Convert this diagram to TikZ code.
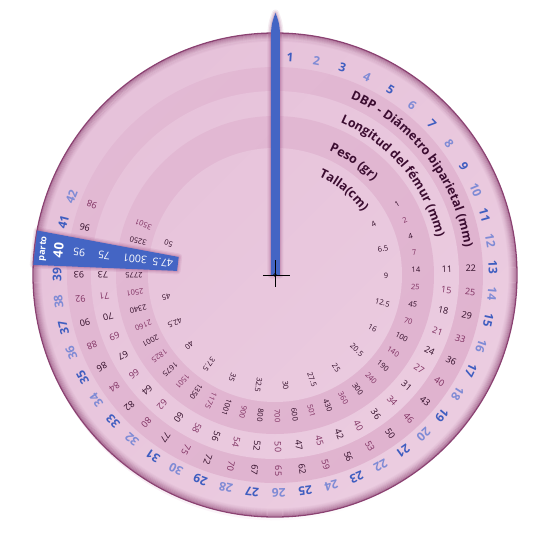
\documentclass[tikz,border=0pt]{standalone}
\usepackage{fontspec}
\setmainfont{Open Sans}
\usepackage{xcolor}
\usetikzlibrary{decorations.text,fadings}
\definecolor{ringlight}{HTML}{ECCDE1}
\definecolor{ringdark}{HTML}{E0B3CF}
\definecolor{ringmid}{HTML}{E4BDD7}
\definecolor{rim}{HTML}{8B4272}
\definecolor{shadowpink}{HTML}{9A4A7E}
\definecolor{weekdark}{HTML}{3E5DC0}
\definecolor{weeklight}{HTML}{7F8BD5}
\definecolor{numdark}{HTML}{2E0A25}
\definecolor{numplum}{HTML}{7E2F60}
\definecolor{title}{HTML}{3B0C30}
\definecolor{hand}{HTML}{4465C4}
\newcommand\dialtitle{\fontsize{12.5}{12.5}\selectfont\bfseries\color{title}}
\tikzfading[name=glare, top color=transparent!30, bottom color=transparent!100]
\tikzset{
  weeknum/.style={font=\fontsize{12}{12}\selectfont\bfseries, inner sep=0pt},
  ringnum/.style={font=\fontsize{9}{9}\selectfont, inner sep=0pt},
  pesonum/.style={font=\fontsize{7.5}{7.5}\selectfont, inner sep=0pt},
  tallanum/.style={font=\fontsize{7.5}{8}\selectfont, inner sep=0pt, text=numdark},
  barnum/.style={font=\fontsize{10.5}{10.5}\selectfont, inner sep=0pt, text=white},
}

\begin{document}
\begin{tikzpicture}[x=1pt, y=1pt]
  \useasboundingbox (-275,-275) rectangle (275,275);

  % dial rings
  \fill[ringlight] (0,0) circle (242);
  \fill[ringdark] (0,0) circle (208);
  \fill[ringlight] (0,0) circle (184);
  \fill[ringdark] (0,0) circle (159);
  \fill[ringlight] (0,0) circle (127);
  \fill[ringmid, path fading=glare, fading angle=45] (0,0) circle (242);
  \foreach \r/\o in {241/0.5, 240/0.4, 239/0.32, 238/0.25, 237/0.18, 236/0.12, 235/0.07, 234/0.04}
    \draw[rim, opacity=\o, line width=1.2pt] (0,0) circle (\r);
  \draw[rim, line width=1.3pt] (0,0) circle (242);

  % titles
  \path[decorate, decoration={text along path, text={|\dialtitle|DBP - Diámetro biparietal  (mm)}}]
    (66.8:191.5) arc[start angle=66.8, end angle=0, radius=191.5];
  \path[decorate, decoration={text along path, text={|\dialtitle|Longitud del fémur (mm)}}]
    (66.8:166) arc[start angle=66.8, end angle=0, radius=166];
  \path[decorate, decoration={text along path, text={|\dialtitle|Peso (gr)}}]
    (66.5:135.5) arc[start angle=66.5, end angle=0, radius=135.5];
  \path[decorate, decoration={text along path, text={|\dialtitle|Talla(cm)}}]
    (66:108) arc[start angle=66, end angle=0, radius=108];

  % weeks
  \foreach \n in {1,...,39,41,42} {
    \ifodd\n \def\wkcol{weekdark}\else\def\wkcol{weeklight}\fi
    \node[weeknum, text=\wkcol, rotate=3-7*\n] (wk\n) at ({93-7*\n}:218) {\n};
  }

  % DBP
  \foreach \v [count=\w from 13] in {22,25,29,33,36,40,43,46,50,53,56,59,62,65,67,70,72,75,77,80,82,84,86,88,90,92,93,95,96,98} {
    \ifnum\w=40 \else
      \ifodd\w \def\numcol{numdark}\else\def\numcol{numplum}\fi
      \node[ringnum, text=\numcol, rotate=93-7*\w] (dbp\w) at ({93-7*\w}:196) {\v};
    \fi
  }

  % femur
  \foreach \v [count=\w from 13] in {11,15,18,21,24,27,31,34,36,40,42,45,47,50,52,54,56,58,60,62,64,66,67,69,70,71,73} {
    \ifodd\w \def\numcol{numdark}\else\def\numcol{numplum}\fi
    \node[ringnum, text=\numcol, rotate=93-7*\w] (fem\w) at ({93-7*\w}:172) {\v};
  }

  % peso
  \foreach \v [count=\w from 9] in {1,2,4,7,14,25,45,70,100,140,190,240,300,360,430,501,600,700,800,900,1001,1175,1350,1501,1675,1825,2001,2160,2340,2501,2775,3001,3250,3501} {
    \ifnum\w=40 \else
      \ifodd\w \def\numcol{numdark}\else\def\numcol{numplum}\fi
      \node[pesonum, text=\numcol, rotate=93-7*\w] (peso\w) at ({93-7*\w}:141) {\v};
    \fi
  }

  % talla
  \foreach \v [count=\k from 0] in {4,6.5,9,12.5,16,20.5,25,27.5,30,32.5,35,37.5,40,42.5,45,47.5,50} {
    \ifnum\k=15 \else
      \node[tallanum, rotate=90.5-7*(9+2*\k)] (talla\k) at ({90.5-7*(9+2*\k)}:111) {\v};
    \fi
  }

  % hand
  \foreach \lw/\o in {7/0.10, 4.5/0.14, 2/0.2}
    \draw[shadowpink, opacity=\o, line width=\lw pt, line join=round]
      (-4,0) -- (-4,240) .. controls (-4,252) and (-1,258) .. (0.5,262)
      .. controls (2,258) and (5,252) .. (5,240) -- (5,0) -- cycle;
  \fill[hand] (-4,0) -- (-4,240) .. controls (-4,252) and (-1,258) .. (0.5,262)
    .. controls (2,258) and (5,252) .. (5,240) -- (5,0) -- cycle;

  % birth bar
  \foreach \lw/\o in {7/0.10, 4.5/0.14, 2/0.2}
    \draw[shadowpink, opacity=\o, line width=\lw pt, line join=round]
      (169.4:98) -- (169.4:242) -- (177.6:242) -- (177.6:98) -- cycle;
  \fill[hand] (169.4:98) -- (169.4:242) -- (177.6:242) -- (177.6:98) -- cycle;
  \node[font=\fontsize{9}{9}\selectfont\bfseries, text=white, inner sep=0pt, rotate=83.5] (parto) at (173.5:233) {parto};
  \node[font=\fontsize{13}{13}\selectfont\bfseries, text=white, inner sep=0pt, rotate=83.5] (wk40) at (173.5:218) {40};
  \node[barnum, rotate=173.5] (dbp40) at (173.5:197) {95};
  \node[barnum, rotate=173.5] (fem40) at (173.5:172) {75};
  \node[barnum, rotate=173.5] (peso40) at (173.5:141) {3001};
  \node[barnum, rotate=173.5] (talla15) at (173.5:113) {47.5};

  % centre mark
  \draw[black, line width=0.8pt] (-12,0) -- (15,0);
  \draw[black, line width=0.8pt] (0,15) -- (0,-12);
  \draw[black, line width=0.5pt] (0,0) circle (1.5);
\end{tikzpicture}
\end{document}
